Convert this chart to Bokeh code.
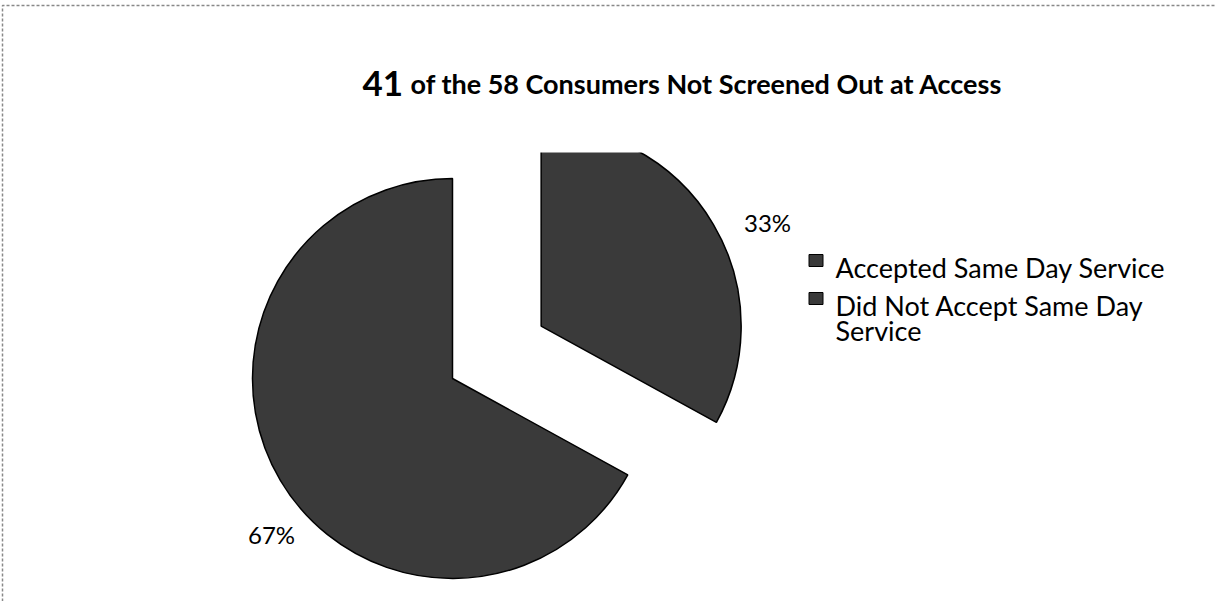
import math
from bokeh.plotting import figure
from bokeh.models import Range1d
from bokeh.core.properties import value
from bokeh.embed import file_html
from bokeh.resources import INLINE

# ---- data ----
categories = ["Accepted Same Day Service", "Did Not Accept Same Day Service"]
percent_values = [33, 67]
title_big = "41"
title_rest = "of the 58 Consumers Not Screened Out at Access"
legend_lines = [["Accepted Same Day Service"], ["Did Not Accept Same Day", "Service"]]

W, H = 1216, 601
p = figure(width=W, height=H, output_backend="svg", toolbar_location=None,
           x_range=Range1d(0, W), y_range=Range1d(0, H), min_border=0)
p.axis.visible = False
p.grid.visible = False
p.outline_line_color = None
p.background_fill_color = "white"

def Y(py):
    return H - py

FONT = value("Lato")
FILL = "#3a3a3a"

# pie geometry
cx, cy, r = 452, Y(378), 200
explode = [103, 0]
plot_area_top = 152  # exploded slice clipped at the plot area like the original
total = sum(percent_values)
cum = 0
label_pos = [(767, 222), (271, 534)]
for i, v in enumerate(percent_values):
    a0 = 90 - cum / total * 360
    a1 = 90 - (cum + v) / total * 360
    cum += v
    mid = math.radians((a0 + a1) / 2)
    ox = cx + explode[i] * math.cos(mid)
    oy = cy + explode[i] * math.sin(mid)
    p.wedge(x=[ox], y=[oy], radius=r, start_angle=[math.radians(a1)],
            end_angle=[math.radians(a0)], fill_color=FILL,
            line_color="black", line_width=1.5)
    lx, ly = label_pos[i]
    p.text(x=[lx], y=[Y(ly)], text=[f"{v}%"], text_font=FONT,
           text_font_size="24px", text_align="center",
           text_baseline="alphabetic", text_color="black")

# clip to plot area top
p.quad(left=[300], right=[800], top=[Y(96)], bottom=[Y(plot_area_top)],
       fill_color="white", line_color=None)

# title
p.text(x=[362], y=[Y(83)], text=[title_big], text_font=FONT, text_font_style="bold",
       text_font_size="35px", text_baseline="alphabetic", text_color="black")
p.text(x=[410], y=[Y(83)], text=[title_rest], text_font=FONT, text_font_style="bold",
       text_font_size="27px", text_baseline="alphabetic", text_color="black")

# legend
row_base = [267, 305]
for i, lines in enumerate(legend_lines):
    b = row_base[i]
    p.rect(x=[815.5], y=[Y(b - 7)], width=14, height=12, fill_color=FILL,
           line_color="black", line_width=1)
    for j, t in enumerate(lines):
        p.text(x=[835], y=[Y(b + 25 * j)], text=[t], text_font=FONT,
               text_font_size="27px", text_baseline="alphabetic", text_color="black")

# border (top and left, dotted gray)
p.line(x=[2, 2, W], y=[0, Y(5), Y(5)], line_color="#888888", line_width=1.5,
       line_dash="3 2")

open("out.html", "w").write(file_html(p, INLINE))
